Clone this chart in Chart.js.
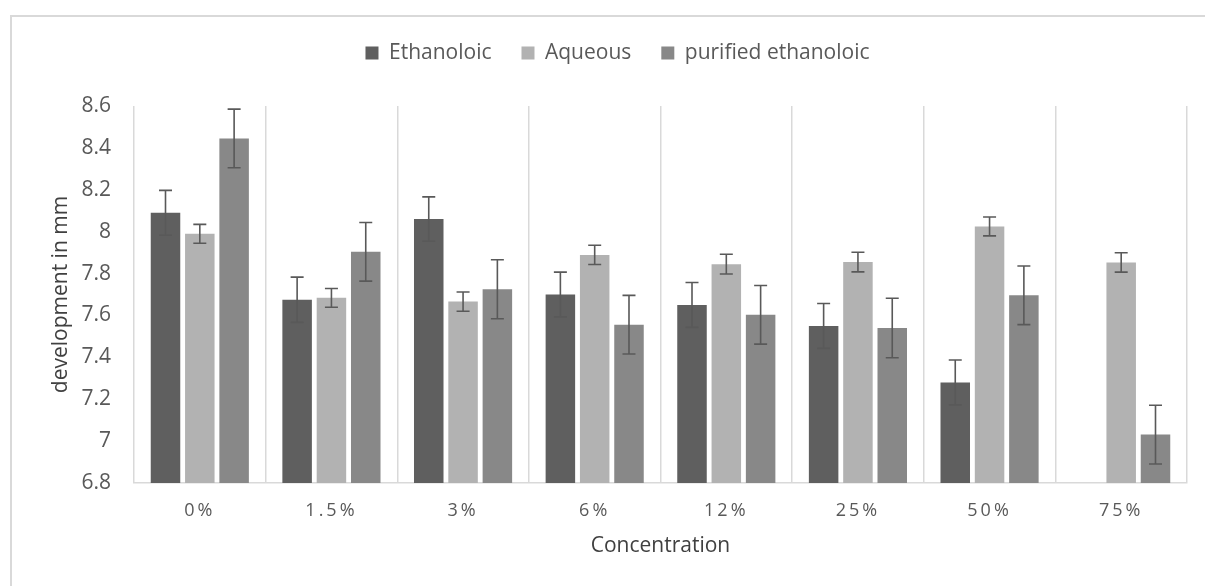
<!DOCTYPE html>
<html>
<head>
<meta charset="utf-8">
<script src="https://cdn.jsdelivr.net/npm/chart.js@4.4.1/dist/chart.umd.min.js"></script>
<style>
  html, body { margin: 0; padding: 0; background: #ffffff; overflow: hidden; }
  #frame { position: absolute; left: 10px; top: 15px; width: 1300px; height: 700px;
           border-left: 2px solid #d9d9d9; border-top: 2px solid #d9d9d9; box-sizing: border-box; }
  #wrap { position: absolute; left: 0; top: 0; width: 1205px; height: 586px; }
</style>
</head>
<body>
<div id="frame"></div>
<div id="wrap"><canvas id="c"></canvas></div>
<script>
const categories = ['0%', '1.5%', '3%', '6%', '12%', '25%', '50%', '75%'];
const seriesNames = ['Ethanoloic', 'Aqueous', 'purified ethanoloic'];
const ethanoloic = [8.09, 7.675, 8.06, 7.70, 7.65, 7.55, 7.28, null];
const ethanoloicErr = [0.107, 0.108, 0.106, 0.107, 0.107, 0.107, 0.107, null];
const aqueous = [7.99, 7.684, 7.666, 7.889, 7.845, 7.855, 8.025, 7.853];
const aqueousErr = [0.045, 0.045, 0.046, 0.046, 0.047, 0.047, 0.045, 0.046];
const purified = [8.445, 7.904, 7.725, 7.556, 7.603, 7.54, 7.696, 7.031];
const purifiedErr = [0.14, 0.14, 0.141, 0.14, 0.14, 0.142, 0.14, 0.14];
const yTicks = [6.8, 7, 7.2, 7.4, 7.6, 7.8, 8, 8.2, 8.4, 8.6];

const colors = ['#5f5f5f', '#b2b2b2', '#888888'];
const errs = [ethanoloicErr, aqueousErr, purifiedErr];

const errorBars = {
  id: 'errorBars',
  afterDatasetsDraw(chart) {
    const ctx = chart.ctx;
    const y = chart.scales.y;
    ctx.save();
    ctx.strokeStyle = '#595959';
    ctx.lineWidth = 1.6;
    chart.data.datasets.forEach((ds, i) => {
      const meta = chart.getDatasetMeta(i);
      meta.data.forEach((el, j) => {
        const v = ds.data[j];
        const e = errs[i][j];
        if (v === null || e === null || e === undefined) return;
        const x = el.x;
        const yt = y.getPixelForValue(v + e);
        const yb = y.getPixelForValue(v - e);
        const cap = 6.5;
        ctx.beginPath();
        ctx.moveTo(x, yt); ctx.lineTo(x, yb);
        ctx.moveTo(x - cap, yt); ctx.lineTo(x + cap, yt);
        ctx.moveTo(x - cap, yb); ctx.lineTo(x + cap, yb);
        ctx.stroke();
      });
    });
    ctx.restore();
  }
};

Chart.defaults.font.family = "'Open Sans'";
Chart.defaults.font.size = 21;
Chart.defaults.color = '#595959';

const chart = new Chart(document.getElementById('c'), {
  type: 'bar',
  data: {
    labels: categories,
    datasets: [
      { label: seriesNames[0], data: ethanoloic, backgroundColor: colors[0], borderWidth: 0 },
      { label: seriesNames[1], data: aqueous, backgroundColor: colors[1], borderWidth: 0 },
      { label: seriesNames[2], data: purified, backgroundColor: colors[2], borderWidth: 0 }
    ]
  },
  options: {
    responsive: true,
    maintainAspectRatio: false,
    animation: false,
    datasets: { bar: { categoryPercentage: 0.782, barPercentage: 0.86 } },
    layout: { padding: { left: 48, right: 18, top: 12.5, bottom: 0 } },
    plugins: {
      tooltip: { enabled: false },
      legend: {
        position: 'top',
        labels: { boxWidth: 13, boxHeight: 13, padding: 30, color: '#595959', font: { size: 21 } }
      }
    },
    scales: {
      x: {
        grid: { display: true, offset: true, color: '#d9d9d9', lineWidth: 1.5, drawTicks: false },
        border: { display: true, color: '#d9d9d9', width: 1.5 },
        ticks: { padding: 17, color: '#595959', font: { size: 18 }, maxRotation: 0 },
        title: { display: true, text: 'Concentration', color: '#404040', font: { size: 21 }, padding: { top: 0, bottom: 27 } },
        afterFit(scale) { scale.height = 103; scale.paddingLeft = 0; scale.paddingRight = 0; }
      },
      y: {
        min: 6.8, max: 8.6,
        afterBuildTicks(scale) { scale.ticks = yTicks.map(v => ({ value: v })); },
        grid: { display: false, drawTicks: false },
        border: { display: false },
        ticks: {
          padding: 23, color: '#595959', font: { size: 21 },
          callback: (v) => String(Number(v.toFixed(1)))
        },
        title: { display: true, text: 'development in mm', color: '#404040', font: { size: 21 }, padding: { top: 0, bottom: 0 } },
        afterFit(scale) { scale.width = 86; scale.paddingTop = 106; }
      }
    }
  },
  plugins: [errorBars]
});

// legend box reaches down to the top of the plot area (item stays at the top of it)
const lg = chart.legend;
const origFit = lg.fit.bind(lg);
lg.fit = function () { origFit(); this.height = 106 - 12.5; };

// letter-spaced category labels, as in the reference
const xs = chart.scales.x;
const origDrawLabels = xs.drawLabels.bind(xs);
xs.drawLabels = function (chartArea) {
  const ctx = chart.ctx;
  ctx.save();
  ctx.letterSpacing = '3px';
  origDrawLabels(chartArea);
  ctx.restore();
};
chart.update();
</script>
</body>
</html>
